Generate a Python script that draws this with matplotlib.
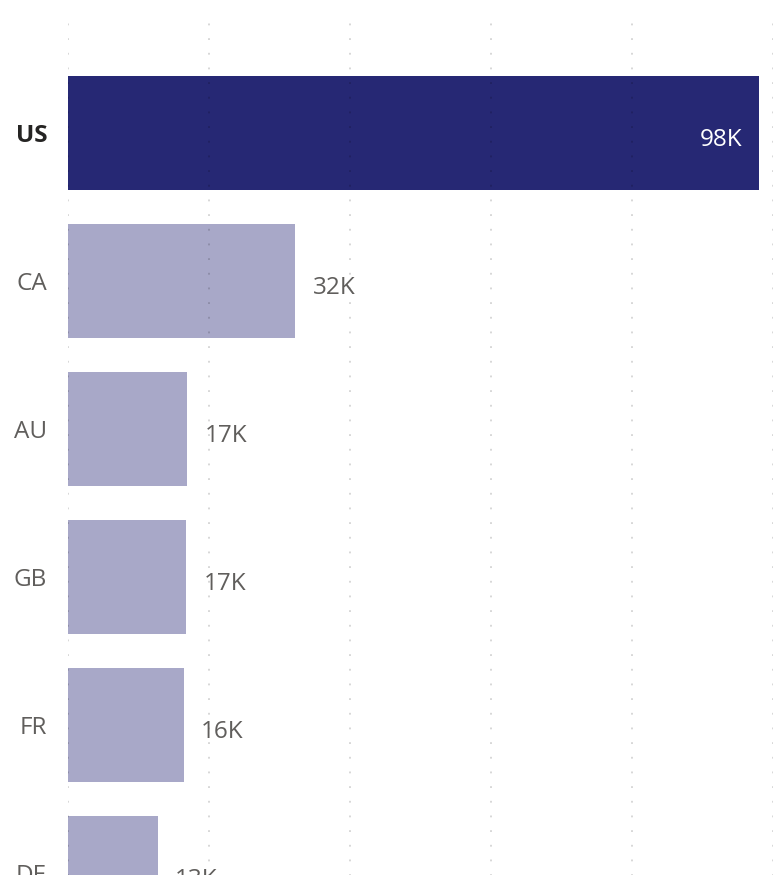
import matplotlib
matplotlib.use('Agg')
import matplotlib.pyplot as plt
from matplotlib.transforms import offset_copy

# Sales by country (thousands)
countries = ['US', 'CA', 'AU', 'GB', 'FR', 'DE']
values = [98.0, 32.2, 16.9, 16.8, 16.4, 12.7]

dark = '#262874'
light = '#a8a8c8'
text_gray = '#605e5c'

plt.rcParams['font.family'] = ['Open Sans', 'DejaVu Sans']

fig = plt.figure(figsize=(7.77, 8.75), dpi=100)
# axes runs past the bottom of the figure, so the last bar is cut off
ax = fig.add_axes([68 / 777, 1 - 984 / 875, (773 - 68) / 777, (984 - 22) / 875])

colors = [dark if i == 0 else light for i in range(len(countries))]
ypos = list(range(len(countries)))
ax.barh(ypos, values, height=0.77, color=colors, zorder=1)

ax.set_xlim(0, 100)
ax.set_ylim(5.75, -0.75)
ax.set_xticks([0, 20, 40, 60, 80, 100])
ax.xaxis.grid(True, color='black', alpha=0.2, linewidth=1.1, linestyle=(0, (1.2, 8.4)), zorder=3)
ax.set_axisbelow(False)
ax.tick_params(axis='x', length=0, labelbottom=False)
ax.tick_params(axis='y', length=0, pad=15)
for s in ax.spines.values():
    s.set_visible(False)

ax.set_yticks(ypos)
ax.set_yticklabels(countries, fontsize=17.5, color=text_gray, va='center_baseline')
lbl = ax.get_yticklabels()[0]
lbl.set_fontweight('bold')
lbl.set_color('#252423')
# nudge the category labels a touch lower
for t in ax.get_yticklabels():
    t.set_transform(t.get_transform() + offset_copy(ax.transData, fig=fig, x=0, y=-1.5, units='points') - ax.transData)

# value labels, nudged a bit below the bar centre
trans = offset_copy(ax.transData, fig=fig, x=0, y=-3, units='points')
for i, v in enumerate(values):
    txt = f'{round(v)}K'
    if i == 0:
        ax.text(v - 2.4, i, txt, ha='right', va='center_baseline', fontsize=17.5,
                color='white', zorder=4, transform=trans)
    else:
        ax.text(v + 2.5, i, txt, ha='left', va='center_baseline', fontsize=17.5,
                color=text_gray, zorder=4, transform=trans)

fig.savefig('out.png', dpi=100)
